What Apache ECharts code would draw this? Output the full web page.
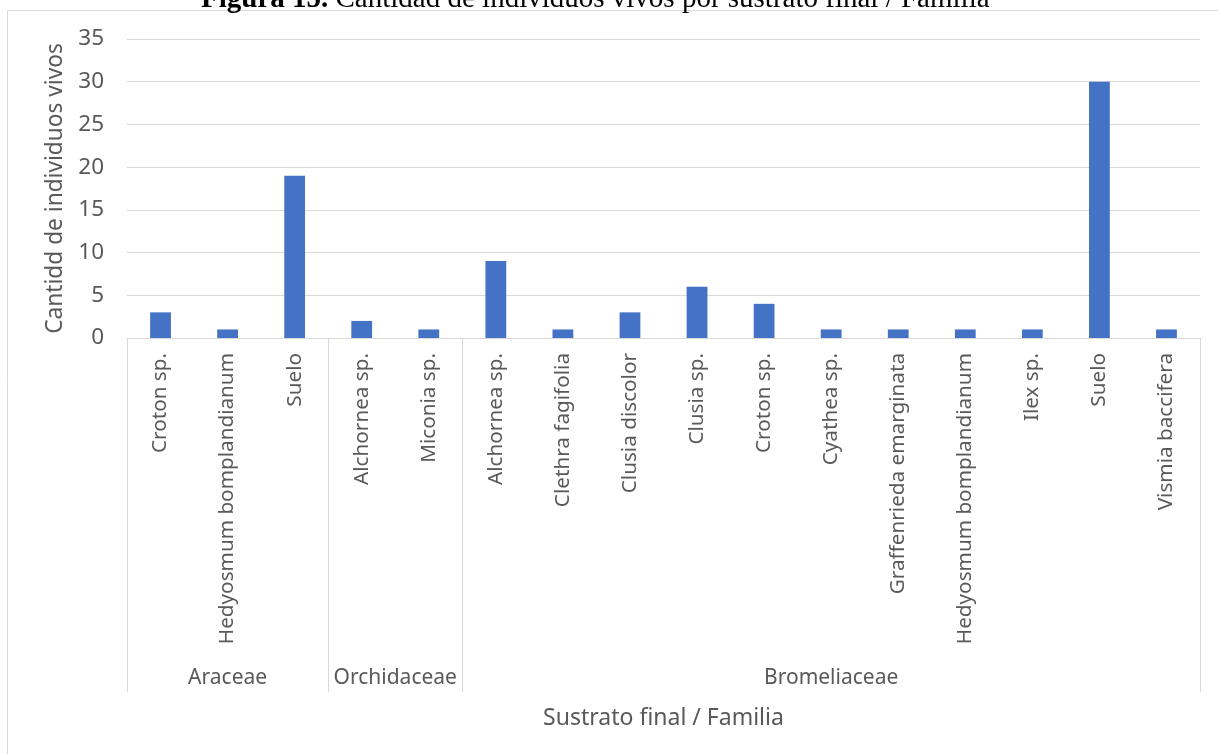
<!DOCTYPE html>
<html>
<head>
<meta charset="utf-8">
<script src="https://cdn.jsdelivr.net/npm/echarts@6/dist/echarts.min.js"></script>
<style>
  html, body { margin: 0; padding: 0; background: #ffffff; }
  #chart { width: 1218px; height: 754px; }
</style>
</head>
<body>
<div id="chart"></div>
<script>
// Families (outer level of the category axis)
const families = ['Araceae', 'Orchidaceae', 'Bromeliaceae'];

// Final substrate per family (inner level)
const araceaeSubstrates = ['Croton sp.', 'Hedyosmum bomplandianum', 'Suelo'];
const orchidaceaeSubstrates = ['Alchornea sp.', 'Miconia sp.'];
const bromeliaceaeSubstrates = [
  'Alchornea sp.', 'Clethra fagifolia', 'Clusia discolor', 'Clusia sp.',
  'Croton sp.', 'Cyathea sp.', 'Graffenrieda emarginata',
  'Hedyosmum bomplandianum', 'Ilex sp.', 'Suelo', 'Vismia baccifera'
];

// Living individuals per substrate
const araceaeValues = [3, 1, 19];
const orchidaceaeValues = [2, 1];
const bromeliaceaeValues = [9, 1, 3, 6, 4, 1, 1, 1, 1, 30, 1];

// Value-axis ticks
const yTicks = [0, 5, 10, 15, 20, 25, 30, 35];

const substrateGroups = [araceaeSubstrates, orchidaceaeSubstrates, bromeliaceaeSubstrates];
const valueGroups = [araceaeValues, orchidaceaeValues, bromeliaceaeValues];

const categories = [].concat(...substrateGroups);
const values = [].concat(...valueGroups);

// Family boundaries and centres, in category units
const boundaries = [0];
substrateGroups.forEach(g => boundaries.push(boundaries[boundaries.length - 1] + g.length));
const centres = families.map((f, i) => (boundaries[i] + boundaries[i + 1]) / 2);

const textColor = '#595959';
const lineColor = '#d9d9d9';
const font = 'Noto Sans';

const chart = echarts.init(document.getElementById('chart'));
chart.setOption({
  animation: false,
  backgroundColor: '#ffffff',
  title: {
    text: '{b|Figura 15.} Cantidad de individuos vivos por sustrato final / Familia',
    left: 196,
    top: -20,
    textStyle: {
      fontFamily: 'Liberation Serif',
      fontSize: 29,
      fontWeight: 'normal',
      color: '#000000',
      rich: {
        b: { fontFamily: 'Liberation Serif', fontSize: 29, fontWeight: 'bold', color: '#000000' }
      }
    }
  },
  graphic: [{
    type: 'rect',
    shape: { x: 7.5, y: 10.5, width: 1400, height: 900 },
    style: { fill: 'none', stroke: lineColor, lineWidth: 1 },
    silent: true,
    z: -1
  }],
  grid: { left: 127, right: 18, top: 39, bottom: 416 },
  xAxis: [
    {
      type: 'category',
      data: categories,
      position: 'bottom',
      axisLine: { show: true, lineStyle: { color: lineColor, width: 1 } },
      axisTick: { show: false },
      axisLabel: {
        interval: 0,
        rotate: 90,
        margin: 15,
        color: textColor,
        fontFamily: font,
        fontSize: 20.7
      }
    },
    {
      type: 'value',
      min: boundaries[0],
      max: boundaries[boundaries.length - 1],
      position: 'bottom',
      offset: 0,
      name: 'Sustrato final / Familia',
      nameLocation: 'middle',
      nameGap: 369,
      nameTextStyle: { color: textColor, fontFamily: font, fontSize: 23 },
      splitLine: { show: false },
      axisLine: { show: false },
      axisTick: {
        show: true,
        customValues: boundaries,
        length: 354,
        lineStyle: { color: lineColor, width: 1 }
      },
      axisLabel: {
        show: true,
        customValues: centres,
        margin: 330,
        color: textColor,
        fontFamily: font,
        fontSize: 21,
        formatter: v => {
          const i = centres.indexOf(v);
          return i >= 0 ? families[i] : '';
        }
      }
    }
  ],
  yAxis: {
    type: 'value',
    min: yTicks[0],
    max: yTicks[yTicks.length - 1],
    interval: yTicks[1] - yTicks[0],
    name: 'Cantidd de individuos vivos',
    nameLocation: 'middle',
    nameGap: 56,
    nameTextStyle: { color: textColor, fontFamily: font, fontSize: 22.7 },
    axisLine: { show: false },
    axisTick: { show: false },
    axisLabel: { color: textColor, fontFamily: font, fontSize: 22.5, margin: 23 },
    splitLine: { lineStyle: { color: lineColor, width: 1 } }
  },
  series: [{
    type: 'bar',
    xAxisIndex: 0,
    yAxisIndex: 0,
    data: values,
    barWidth: '31%',
    itemStyle: { color: '#4472C4' }
  }]
});
</script>
</body>
</html>
